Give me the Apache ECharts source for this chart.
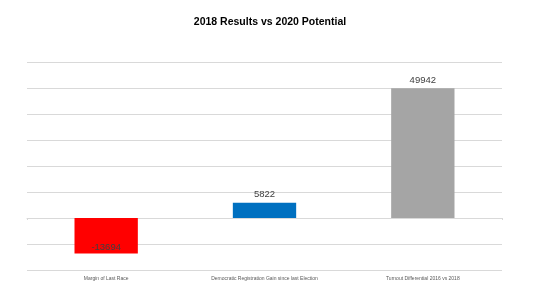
<!DOCTYPE html>
<html><head><meta charset="utf-8">
<script src="https://cdn.jsdelivr.net/npm/echarts@6/dist/echarts.min.js"></script>
<style>html,body{margin:0;padding:0;background:#fff}#c{width:540px;height:304px}</style>
</head><body><div id="c"></div>
<script>
const categories = ["Margin of Last Race", "Democratic Registration Gain since last Election", "Turnout Differential 2016 vs 2018"];
const values = [-13694, 5822, 49942];
const barColors = ["#ff0000", "#0070c0", "#a5a5a5"];
const yMin = -20000, yMax = 60000, yInterval = 10000;

const chart = echarts.init(document.getElementById('c'));
chart.setOption({
  animation: false,
  title: { text: "2018 Results vs 2020 Potential", left: 'center', top: 12,
    textStyle: { fontFamily: 'Liberation Sans', fontWeight: 'bold', fontSize: 10.5, color: '#000' } },
  grid: { left: 27, right: 38, top: 62, bottom: 34 },
  xAxis: [{
    type: 'category', data: categories, position: 'bottom',
    axisLine: { show: false, onZero: false }, axisTick: { show: false },
    axisLabel: { fontSize: 5, color: '#595959', fontFamily: 'Liberation Sans', margin: 6, interval: 0 }
  }, {
    type: 'category', data: categories, position: 'bottom',
    axisLine: { show: true, onZero: true, lineStyle: { color: '#d9d9d9' } },
    axisTick: { show: true, length: 2, lineStyle: { color: '#d9d9d9' } },
    axisLabel: { show: false }
  }],
  yAxis: {
    type: 'value', min: yMin, max: yMax, interval: yInterval,
    axisLabel: { show: false }, axisLine: { show: false }, axisTick: { show: false },
    splitLine: { lineStyle: { color: '#d9d9d9' } }
  },
  series: [{
    type: 'bar', barWidth: '40%',
    data: values.map((v, i) => ({
      value: v, itemStyle: { color: barColors[i] },
      label: v < 0 ? { position: 'insideBottom', distance: 1 } : { position: 'top', distance: 3 }
    })),
    label: { show: true, fontSize: 9.5, color: '#404040', fontFamily: 'Liberation Sans' }
  }]
});
</script></body></html>
